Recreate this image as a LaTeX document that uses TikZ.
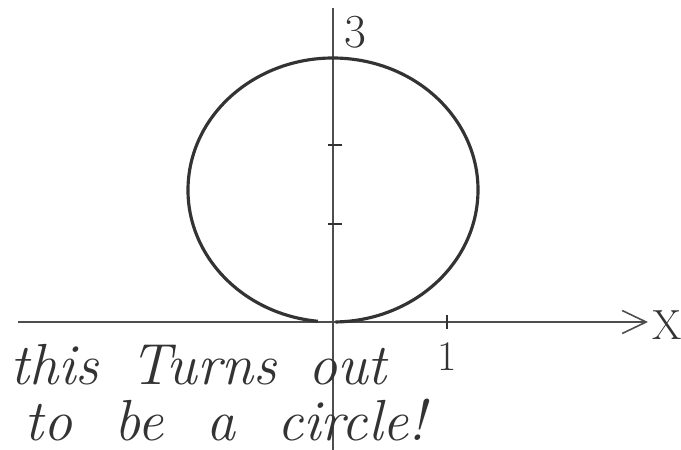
\documentclass[tikz,border=0pt]{standalone}
\usepackage{amsmath,amssymb}
\usepackage{xcolor}
\usepackage{tikz}
\usetikzlibrary{arrows.meta,calc,positioning}
\definecolor{ink}{HTML}{333333}
\definecolor{axisgray}{HTML}{4D4D4D}
\tikzset{
  axisline/.style={axisgray,line width=0.9pt},
  curveline/.style={ink,line width=1.8pt},
  tickmark/.style={ink,line width=1.6pt},
  handtext/.style={ink,inner sep=0pt,font=\fontsize{33}{38}\selectfont\itshape},
  numtext/.style={ink,inner sep=0pt,font=\fontsize{24}{28}\selectfont}
}

\begin{document}
\begin{tikzpicture}[x=0.02cm,y=-0.02cm]
  \useasboundingbox (0,0) rectangle (681,450);
  % axes
  \coordinate (xstart) at (18,322);
  \coordinate (xend) at (648,322);
  \coordinate (ytop) at (333,8);
  \coordinate (ybot) at (333,450);
  \draw[axisline,-{Straight Barb[length=0.48cm,width=0.46cm,line width=0.9pt]}] (xstart)--(xend);
  \draw[axisline] (ybot)--(ytop);
  \node[numtext,font=\fontsize{24}{28}\selectfont] (xlab) at (667,325) {X};
  % ticks
  \draw[tickmark] (328,145)--(342,145); \draw[tickmark] (328,224)--(342,224);
  \draw[tickmark] (447,315)--(447,329);
  \node[numtext,anchor=north] (one) at (447,342) {1};
  \node[numtext,font=\fontsize{27}{30}\selectfont,anchor=south west] (three) at (344,49) {3};
  % the curve
  \coordinate (ctr) at (333,190);
  \draw[curveline] ($(ctr)+(96:145 and 132)$) arc[start angle=96,end angle=449,x radius=145,y radius=132];
  % note
  \node[handtext,anchor=base west] (line1) at (10,384) {\spaceskip=0.55em this Turns out};
  \node[handtext,anchor=base west] (line2) at (24,440) {\spaceskip=0.73em to be a circle!};
\end{tikzpicture}
\end{document}
